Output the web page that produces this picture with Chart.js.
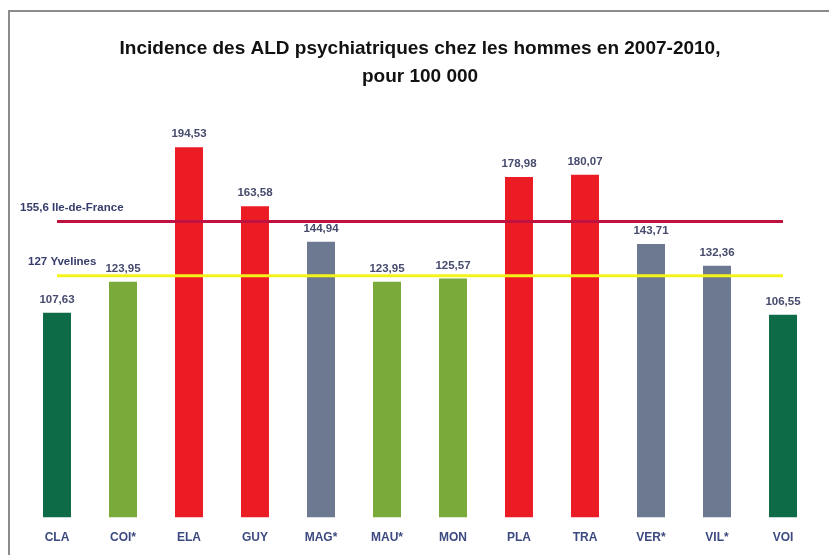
<!DOCTYPE html>
<html>
<head>
<meta charset="utf-8">
<script src="https://cdn.jsdelivr.net/npm/chart.js@4/dist/chart.umd.min.js"></script>
<style>
  html, body { margin: 0; padding: 0; background: #fff; overflow: hidden; }
  #frame {
    position: absolute; left: 8px; top: 10px; width: 830px; height: 560px;
    border-top: 2px solid #8c8c8c; border-left: 2px solid #8c8c8c;
  }
  #wrap { position: absolute; left: 0; top: 0; width: 829px; height: 558px; }
</style>
</head>
<body>
<div id="frame"></div>
<div id="wrap"><canvas id="chart"></canvas></div>
<script>
// données
const categories = ["CLA", "COI*", "ELA", "GUY", "MAG*", "MAU*", "MON", "PLA", "TRA", "VER*", "VIL*", "VOI"];
const incidence = [107.63, 123.95, 194.53, 163.58, 144.94, 123.95, 125.57, 178.98, 180.07, 143.71, 132.36, 106.55];
const ileDeFrance = 155.6;
const yvelines = 127;

// couleurs des barres
const darkGreen = "#0d6b47";
const lightGreen = "#7aaa3a";
const red = "#ec1c24";
const grey = "#6d7891";
const barColors = [darkGreen, lightGreen, red, red, grey, lightGreen, lightGreen, red, red, grey, grey, darkGreen];

const fmt = (v) => String(v).replace(".", ",");

// étiquettes de valeurs et des lignes de référence
const labelsPlugin = {
  id: "labels",
  afterDatasetsDraw(chart) {
    const ctx = chart.ctx;
    const yScale = chart.scales.y;
    ctx.save();
    ctx.textAlign = "center";
    ctx.textBaseline = "middle";
    ctx.font = "bold 11.5px 'Liberation Sans'";
    ctx.fillStyle = "#474b6d";
    const meta = chart.getDatasetMeta(2);
    meta.data.forEach((bar, i) => {
      ctx.fillText(incidence[i].toFixed(2).replace(".", ","), bar.x, bar.y - 13);
    });
    ctx.textAlign = "left";
    ctx.fillStyle = "#363c6c";
    ctx.fillText(fmt(ileDeFrance) + " Ile-de-France", 20, yScale.getPixelForValue(ileDeFrance) - 14);
    ctx.fillText(yvelines + " Yvelines", 28, yScale.getPixelForValue(yvelines) - 14);
    ctx.restore();
  },
};

const ctx = document.getElementById("chart").getContext("2d");
const chart = new Chart(ctx, {
  data: {
    labels: categories,
    datasets: [
      {
        type: "line",
        label: "Ile-de-France",
        data: categories.map(() => ileDeFrance),
        borderColor: "#bf1240",
        borderWidth: 3,
        pointRadius: 0,
        order: 0,
      },
      {
        type: "line",
        label: "Yvelines",
        data: categories.map(() => yvelines),
        borderColor: "#f4f41a",
        borderWidth: 3,
        pointRadius: 0,
        order: 0,
      },
      {
        type: "bar",
        label: "Incidence",
        data: incidence,
        backgroundColor: barColors,
        categoryPercentage: 1,
        barPercentage: 0.424,
        order: 1,
      },
    ],
  },
  options: {
    responsive: true,
    maintainAspectRatio: false,
    animation: false,
    layout: { padding: { left: 24, right: 13, top: 0, bottom: 0 } },
    plugins: {
      legend: { display: false },
      tooltip: { enabled: false },
      title: {
        display: true,
        text: ["Incidence des ALD psychiatriques chez les hommes en 2007-2010,", "pour 100 000"],
        color: "#111",
        font: { family: "'Liberation Sans'", size: 19, weight: "bold", lineHeight: 1.47 },
        padding: { top: 35, bottom: 46 },
      },
    },
    scales: {
      x: {
        grid: { display: false, drawTicks: false },
        border: { display: false },
        ticks: {
          padding: 13,
          color: "#3c4a80",
          font: { family: "'Liberation Sans'", size: 12, weight: "bold" },
        },
      },
      y: {
        display: false,
        min: 0,
        max: 200,
      },
    },
  },
  plugins: [labelsPlugin],
});
</script>
</body>
</html>
